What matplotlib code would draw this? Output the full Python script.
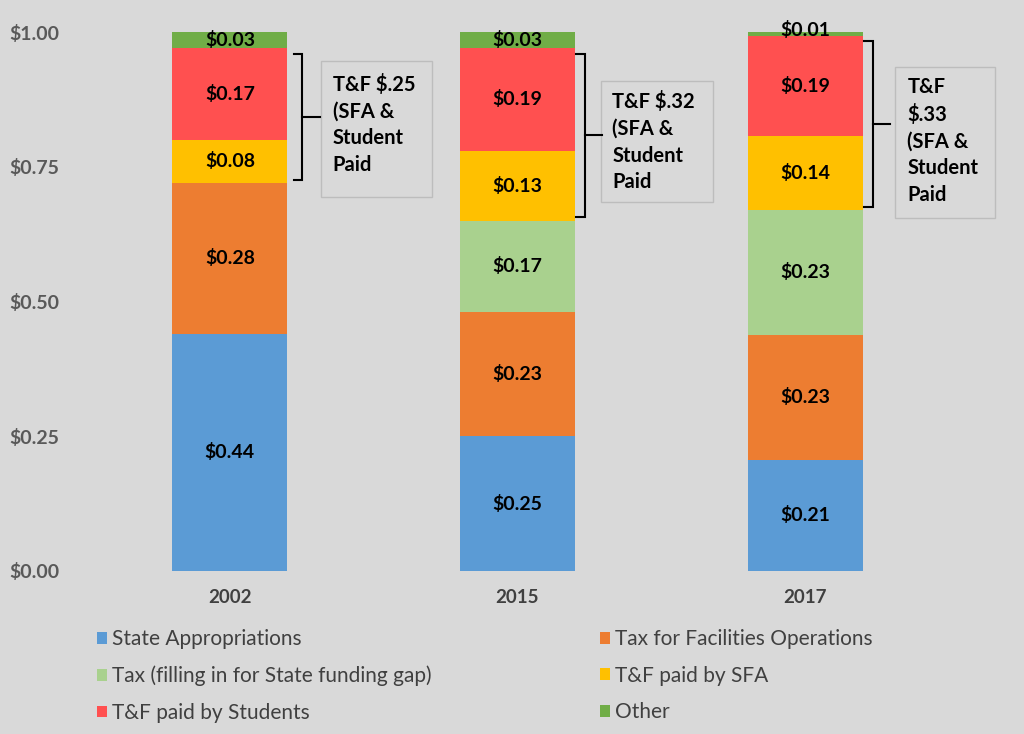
import numpy as np
import matplotlib
matplotlib.use('Agg')
import matplotlib.pyplot as plt
from matplotlib.patches import Rectangle, Patch

plt.rcParams['font.family'] = ['Lato', 'DejaVu Sans']

# 数据
years = ['2002', '2015', '2017']
series = ['State Appropriations', 'Tax for Facilities Operations',
          'Tax (filling in for State funding gap)', 'T&F paid by SFA',
          'T&F paid by Students', 'Other']
state_approp = [0.44, 0.25, 0.206]
tax_facilities = [0.28, 0.23, 0.232]
tax_gap = [0.00, 0.17, 0.232]
tf_sfa = [0.08, 0.13, 0.137]
tf_students = [0.17, 0.19, 0.186]
other = [0.03, 0.03, 0.007]
box_texts = ['T&F $.25\n(SFA &\nStudent\nPaid',
             'T&F $.32\n(SFA &\nStudent\nPaid',
             'T&F\n$.33\n(SFA &\nStudent\nPaid']

colors = ['#5b9bd5', '#ed7d31', '#a9d18e', '#ffc000', '#ff5050', '#70ad47']
bg = '#d9d9d9'

# 注释框布局（相对于柱中心，数据坐标）
box_x = [(0.317, 0.703), (0.289, 0.678), (0.313, 0.661)]
box_y = [(0.694, 0.946), (0.685, 0.909), (0.655, 0.935)]
text_xy = [(0.358, 0.922), (0.330, 0.890), (0.355, 0.917)]
bracket_off = [0.052, 0.035, 0.035]

fig = plt.figure(figsize=(10.24, 7.34), dpi=100, facecolor=bg)
ax = fig.add_axes([86 / 1024, 163 / 734, 863 / 1024, 539 / 734])
ax.set_facecolor(bg)

x = np.arange(len(years))
width = 0.4
stack = [state_approp, tax_facilities, tax_gap, tf_sfa, tf_students, other]
bottom = np.zeros(len(years))
for vals, c in zip(stack, colors):
    vals = np.array(vals)
    ax.bar(x, vals, width, bottom=bottom, color=c, clip_on=False)
    for i, v in enumerate(vals):
        if v > 0:
            yc = bottom[i] + v / 2
            if v < 0.02:
                yc = bottom[i] + v + 0.004
            ax.text(x[i], yc, f'${v:.2f}', ha='center', va='center',
                    fontsize=14, fontweight='bold', color='black', clip_on=False)
    bottom += vals

# 括号和注释框
sfa_bottom = np.array(state_approp) + np.array(tax_facilities) + np.array(tax_gap)
stu_top = sfa_bottom + np.array(tf_sfa) + np.array(tf_students)
for i in range(len(years)):
    bx = x[i] + width / 2 + bracket_off[i]
    y0 = sfa_bottom[i] + 0.006
    y1 = stu_top[i] - 0.01
    ym = (y0 + y1) / 2
    ax.plot([bx - 0.03, bx, bx, bx - 0.03], [y1, y1, y0, y0], color='black', lw=1.5,
            clip_on=False, solid_joinstyle='miter')
    ax.plot([bx, bx + 0.06], [ym, ym], color='black', lw=1.5, clip_on=False)
    ax.add_patch(Rectangle((x[i] + box_x[i][0], box_y[i][0]),
                           box_x[i][1] - box_x[i][0], box_y[i][1] - box_y[i][0],
                           fill=False, edgecolor='#bdbdbd', lw=1, clip_on=False))
    ax.text(x[i] + text_xy[i][0], text_xy[i][1], box_texts[i], ha='left', va='top',
            fontsize=14.5, fontweight='bold', linespacing=1.42, color='black')

ax.set_xlim(-0.5, 2.5)
ax.set_ylim(0, 1.0)
ax.set_xticks(x)
ax.set_xticklabels(years, fontsize=13.5, fontweight='bold', color='#404040')
ax.set_yticks([0, 0.25, 0.5, 0.75, 1.0])
ax.set_yticklabels([f'${v:.2f}' for v in [0, 0.25, 0.5, 0.75, 1.0]],
                   fontsize=14, fontweight='bold', color='#595959')
ax.tick_params(axis='x', length=0, pad=13)
ax.tick_params(axis='y', length=0, pad=19)
for s in ax.spines.values():
    s.set_visible(False)

handles = [Patch(facecolor=c, edgecolor='none') for c in colors]
leg_kw = dict(frameon=False, fontsize=15, handlelength=0.5, handleheight=0.5,
              handletextpad=0.2, labelspacing=0.8, labelcolor='#404040',
              borderpad=0, borderaxespad=0, loc='upper left')
leg1 = fig.legend([handles[0], handles[2], handles[4]],
                  [series[0], series[2], series[4]],
                  bbox_to_anchor=(97 / 1024, 1 - 629 / 734), **leg_kw)
leg2 = fig.legend([handles[1], handles[3], handles[5]],
                  [series[1], series[3], series[5]],
                  bbox_to_anchor=(600 / 1024, 1 - 629 / 734), **leg_kw)

fig.savefig('out.png', dpi=100, facecolor=bg)
